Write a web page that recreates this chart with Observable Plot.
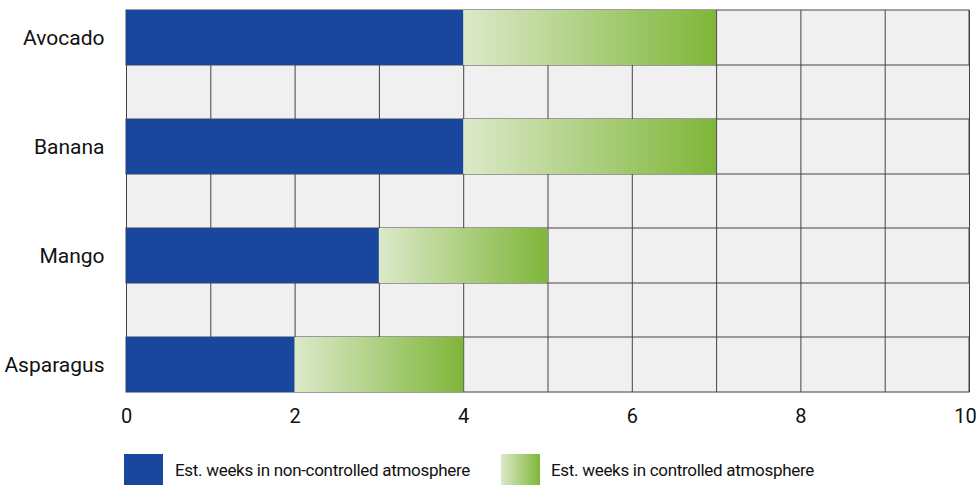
<!DOCTYPE html>
<html>
<head>
<meta charset="utf-8">
<script src="https://cdn.jsdelivr.net/npm/d3@7"></script>
<script src="https://cdn.jsdelivr.net/npm/@observablehq/plot@0.6"></script>
<style>
  html, body { margin: 0; padding: 0; background: #fff; }
  body { width: 979px; height: 485px; overflow: hidden; font-family: Roboto, "Liberation Sans", sans-serif; }
  #legend { position: relative; height: 55px; }
  .sw { position: absolute; top: 24px; width: 39px; height: 32px; }
  .lt { position: absolute; top: 30px; font-size: 17px; color: #111; letter-spacing: -0.3px; }
</style>
</head>
<body>
<div id="chart"></div>
<div id="legend">
  <div class="sw" style="left:124px;background:#18479d"></div>
  <div class="lt" style="left:175px" id="l1"></div>
  <div class="sw" style="left:501px;background:linear-gradient(to right,#dce9c9,#7fb639)"></div>
  <div class="lt" style="left:551px" id="l2"></div>
</div>
<script>
const categories = ["Avocado", "Banana", "Mango", "Asparagus"];
const nonControlled = [4, 4, 3, 2];
const controlledTotal = [7, 7, 5, 4];
const xTicks = [0, 2, 4, 6, 8, 10];
const seriesNames = ["Est. weeks in non-controlled atmosphere", "Est. weeks in controlled atmosphere"];

const rows = categories.map((c, i) => ({c, a: nonControlled[i], b: controlledTotal[i]}));
const gridX = d3.range(0, 11);

const defs = () => {
  const d = d3.create("svg:defs");
  const g = d.append("linearGradient").attr("id", "greenGrad").attr("x1", "0").attr("x2", "1").attr("y1", "0").attr("y2", "0");
  g.append("stop").attr("offset", "0%").attr("stop-color", "#dce9c9");
  g.append("stop").attr("offset", "100%").attr("stop-color", "#7fb639");
  return d.node();
};

const chart = Plot.plot({
  width: 979,
  height: 430,
  marginLeft: 126,
  marginRight: 10,
  marginTop: 10,
  marginBottom: 38,
  style: {fontFamily: 'Roboto, "Liberation Sans", sans-serif', color: "#111", background: "#fff"},
  x: {domain: [0, 10], ticks: xTicks, label: null},
  y: {domain: categories, paddingInner: 0.5, paddingOuter: 0, label: null},
  marks: [
    defs,
    Plot.frame({fill: "#f0f0f0", stroke: null}),
    Plot.ruleX(gridX, {stroke: "#444", strokeWidth: 1}),
    Plot.barX(rows, {y: "c", x1: 0, x2: 10, fill: "none", stroke: "#444", strokeWidth: 1}),
    Plot.barX(rows, {y: "c", x1: 0, x2: "a", fill: "#18479d"}),
    Plot.barX(rows, {y: "c", x1: "a", x2: "b", fill: "url(#greenGrad)"}),
    Plot.axisX({ticks: xTicks.slice(0, -1), tickSize: 0, tickPadding: 16, fontSize: 20, label: null}),
    Plot.axisX({ticks: xTicks.slice(-1), tickSize: 0, tickPadding: 16, fontSize: 20, dx: -4, label: null}),
    Plot.axisY({tickSize: 0, tickPadding: 22, fontSize: 21, label: null})
  ]
});
document.getElementById("chart").appendChild(chart);
document.getElementById("l1").textContent = seriesNames[0];
document.getElementById("l2").textContent = seriesNames[1];
</script>
</body>
</html>
